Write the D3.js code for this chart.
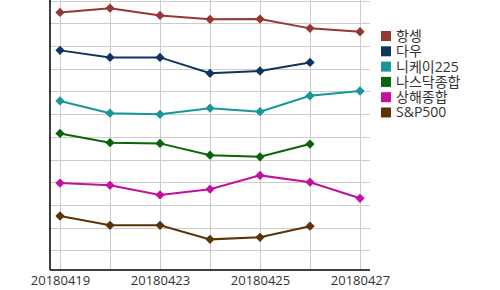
<!DOCTYPE html>
<html>
<head>
<meta charset="utf-8">
<script src="https://cdn.jsdelivr.net/npm/d3@7"></script>
<style>
body { margin: 0; background: #fff; }
text { font-family: "Open Sans", "Noto Sans CJK KR", sans-serif; }
</style>
</head>
<body>
<script>
var dates = ["20180419", "20180420", "20180423", "20180424", "20180425", "20180426", "20180427"];
var tickLabels = ["20180419", "20180423", "20180425", "20180427"];
var names = ["항셍", "다우", "니케이225", "나스닥종합", "상해종합", "S&P500"];
var colors = ["#953735", "#0d3560", "#17979a", "#0a640a", "#c3109d", "#5c3208"];

// relative index level (no y labels in the picture)
var hangseng = [10.48, 10.67, 10.35, 10.18, 10.19, 9.78, 9.63];
var dow = [8.81, 8.50, 8.50, 7.80, 7.90, 8.28, null];
var nikkei = [6.58, 6.04, 5.99, 6.26, 6.11, 6.81, 7.02];
var nasdaq = [5.15, 4.74, 4.71, 4.19, 4.12, 4.68, null];
var shanghai = [2.96, 2.86, 2.44, 2.69, 3.30, 3.00, 2.29];
var sp500 = [1.51, 1.10, 1.10, 0.48, 0.57, 1.06, null];

var series = [hangseng, dow, nikkei, nasdaq, shanghai, sp500];

var W = 500, H = 290;
var mLeft = 50, mRight = 370, mTop = 0, mBottom = 270;

var svg = d3.select("body").append("svg")
	.attr("width", W)
	.attr("height", H);

var x = d3.scalePoint()
	.domain(dates)
	.range([mLeft, mRight])
	.padding(0.2);

var y = d3.scaleLinear()
	.domain([-0.87, 11.03])
	.range([mBottom, mTop]);

// grid
svg.append("g").selectAll("line")
	.data(d3.range(0, 12))
	.enter().append("line")
	.attr("x1", mLeft).attr("x2", mRight)
	.attr("y1", function(d) { return Math.round(y(d)) + 0.5; })
	.attr("y2", function(d) { return Math.round(y(d)) + 0.5; })
	.attr("stroke", "#cccccc");

svg.append("g").selectAll("line")
	.data(dates)
	.enter().append("line")
	.attr("y1", mTop).attr("y2", mBottom)
	.attr("x1", function(d) { return x(d) + 0.5; })
	.attr("x2", function(d) { return x(d) + 0.5; })
	.attr("stroke", "#cccccc");

// axes
var xAxis = svg.append("g")
	.attr("transform", "translate(0," + mBottom + ")")
	.call(d3.axisBottom(x).tickSize(0).tickPadding(6)
		.tickFormat(function(d) { return tickLabels.indexOf(d) >= 0 ? d : ""; }));
xAxis.select(".domain").attr("stroke", "#000").attr("stroke-width", 1.5)
	.attr("d", "M" + mLeft + ",0H" + mRight);
xAxis.selectAll("text").attr("font-size", 13).attr("fill", "#333")
	.style("font-family", "'Open Sans', sans-serif");

svg.append("line")
	.attr("x1", mLeft).attr("x2", mLeft)
	.attr("y1", mTop).attr("y2", mBottom)
	.attr("stroke", "#000").attr("stroke-width", 1.5);

// lines
var line = d3.line()
	.defined(function(d) { return d != null; })
	.x(function(d, i) { return x(dates[i]); })
	.y(function(d) { return y(d); });

var diamond = d3.symbol().type(d3.symbolDiamond2).size(55);

series.forEach(function(s, k) {
	svg.append("path")
		.datum(s)
		.attr("d", line)
		.attr("fill", "none")
		.attr("stroke", colors[k])
		.attr("stroke-width", 2);
	svg.append("g").selectAll("path")
		.data(s.map(function(v, i) { return {v: v, i: i}; }).filter(function(d) { return d.v != null; }))
		.enter().append("path")
		.attr("d", diamond)
		.attr("transform", function(d) { return "translate(" + x(dates[d.i]) + "," + y(d.v) + ")"; })
		.attr("fill", colors[k]);
});

// legend
var legend = svg.append("g").attr("transform", "translate(381,31)");
var rows = legend.selectAll("g")
	.data(names)
	.enter().append("g")
	.attr("transform", function(d, i) { return "translate(0," + (i * 15.3) + ")"; });
rows.append("rect")
	.attr("width", 10).attr("height", 10)
	.attr("fill", function(d, i) { return colors[i]; });
rows.append("text")
	.attr("x", 15).attr("y", 5)
	.attr("dy", "0.35em")
	.attr("font-size", 14)
	.attr("fill", "#333")
	.text(function(d) { return d; });
</script>
</body>
</html>
